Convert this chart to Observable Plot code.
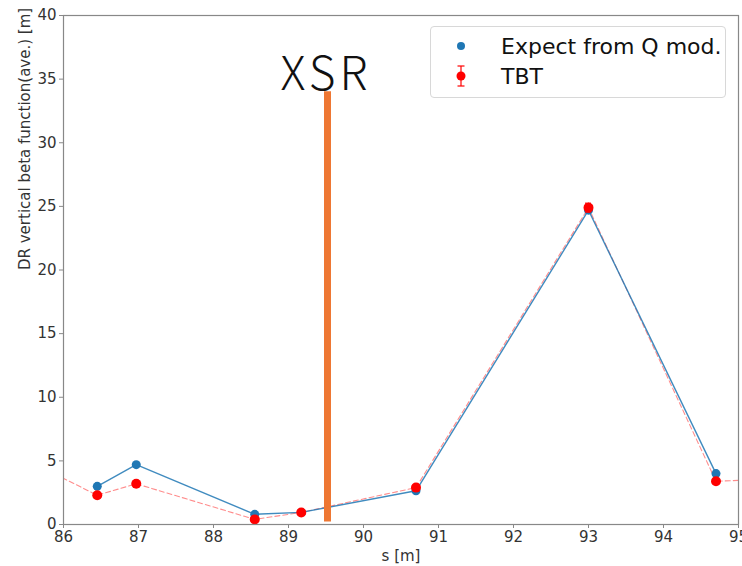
<!DOCTYPE html>
<html>
<head>
<meta charset="utf-8">
<script src="https://cdn.jsdelivr.net/npm/d3@7"></script>
<script src="https://cdn.jsdelivr.net/npm/@observablehq/plot@0.6"></script>
<style>
  html, body { margin: 0; padding: 0; background: #fff; }
  #wrap { position: relative; width: 742px; height: 566px; overflow: hidden; }
  #legend { position: absolute; left: 430px; top: 26px; width: 294px; height: 70px;
    border: 1px solid #d8d8d8; border-radius: 4px; background: rgba(255,255,255,0.8);
    font-family: "DejaVu Sans", sans-serif; font-size: 22px; color: #111; }
  .row { position: absolute; left: 0; height: 26px; display: flex; align-items: center; }
  .row svg { margin-left: 22px; margin-right: 32px; }
  .xsr-label text { letter-spacing: 4px; }
</style>
</head>
<body>
<div id="wrap"></div>
<script>
// Data
const sPos = [86.45, 86.97, 88.55, 89.17, 90.70, 93.00, 94.70];
const expectBeta = [3.0, 4.7, 0.8, 0.95, 2.65, 24.7, 4.0];
const tbtBeta = [2.3, 3.2, 0.4, 0.95, 2.9, 24.9, 3.4];
const tbtErr = [0.1, 0.1, 0.1, 0.1, 0.15, 0.35, 0.1];
// dashed TBT trend extends beyond the plotted window
const tbtLineS = [85.6, 86.45, 86.97, 88.55, 89.17, 90.70, 93.00, 94.70, 95.6];
const tbtLineB = [4.8, 2.3, 3.2, 0.4, 0.95, 2.9, 24.9, 3.4, 3.6];
const xsrS = 89.52;
const xsrTop = 34;
const xsrBottom = 0.2;
const xTicks = [86, 87, 88, 89, 90, 91, 92, 93, 94, 95];
const yTicks = [0, 5, 10, 15, 20, 25, 30, 35, 40];
const capHalf = 0.04;

const pts = sPos.map((s, i) => ({s, exp: expectBeta[i], tbt: tbtBeta[i], err: tbtErr[i]}));
const tline = tbtLineS.map((s, i) => ({s, b: tbtLineB[i]}));

const chart = Plot.plot({
  width: 742,
  height: 566,
  marginLeft: 63,
  marginRight: 4,
  marginTop: 15,
  marginBottom: 42,
  style: {fontFamily: "DejaVu Sans, sans-serif", fontSize: "15px", color: "#222", background: "white", overflow: "visible"},
  x: {type: "linear", domain: [86, 95], ticks: xTicks, tickFormat: d => String(d), label: null},
  y: {type: "linear", domain: [0, 40], ticks: yTicks, tickFormat: d => String(d), label: null},
  marks: [
    Plot.line(tline, {x: "s", y: "b", stroke: "red", strokeOpacity: 0.45, strokeWidth: 1.1, strokeDasharray: "5,3", clip: true}),
    Plot.line(pts, {x: "s", y: "exp", stroke: "#1f77b4", strokeWidth: 1.4, strokeOpacity: 0.85}),
    Plot.dot(pts, {x: "s", y: "exp", r: 4.5, fill: "#1f77b4"}),
    Plot.ruleX(pts, {x: "s", y1: d => d.tbt - d.err, y2: d => d.tbt + d.err, stroke: "red", strokeWidth: 1.2}),
    Plot.ruleY(pts, {y: d => d.tbt + d.err, x1: d => d.s - capHalf, x2: d => d.s + capHalf, stroke: "red", strokeWidth: 1.2}),
    Plot.ruleY(pts, {y: d => d.tbt - d.err, x1: d => d.s - capHalf, x2: d => d.s + capHalf, stroke: "red", strokeWidth: 1.2}),
    Plot.dot(pts, {x: "s", y: "tbt", r: 5, fill: "red"}),
    Plot.ruleX([xsrS], {x: d => d, y1: xsrBottom, y2: xsrTop, stroke: "#ee7733", strokeWidth: 7}),
    Plot.text(["XSR"], {x: xsrS - 0.02, y: xsrTop, text: d => d, dy: -2, lineAnchor: "bottom", className: "xsr-label",
      fontSize: 46, fontWeight: 300, fontFamily: "Noto Sans CJK JP, Noto Sans, sans-serif", fill: "#111"}),
    Plot.frame({stroke: "#888", strokeWidth: 1.2}),
    Plot.axisX({ticks: xTicks, tickSize: 4, tickPadding: 3, stroke: "#888", color: "#333", tickFormat: d => String(d), label: null, fontSize: 15}),
    Plot.axisY({ticks: yTicks, tickSize: 4, tickPadding: 3, stroke: "#888", color: "#333", tickFormat: d => String(d), label: null, fontSize: 15}),
    Plot.text(["s [m]"], {frameAnchor: "bottom", dy: 36, text: d => d, fontSize: 15, fill: "#333"}),
    Plot.text(["DR vertical beta function(ave.) [m]"], {frameAnchor: "left", dx: -38, rotate: -90, text: d => d, fontSize: 15, fill: "#333"})
  ]
});

const wrap = document.getElementById("wrap");
wrap.appendChild(chart);

const legend = document.createElement("div");
legend.id = "legend";
legend.innerHTML = `
  <div class="row" style="top:6px"><svg width="16" height="20"><circle cx="8" cy="10" r="4" fill="#1f77b4"/></svg><span>Expect from Q mod.</span></div>
  <div class="row" style="top:36px"><svg width="16" height="26">
    <line x1="8" y1="3" x2="8" y2="23" stroke="red" stroke-width="1.2"/>
    <line x1="4.5" y1="3" x2="11.5" y2="3" stroke="red" stroke-width="1.2"/>
    <line x1="4.5" y1="23" x2="11.5" y2="23" stroke="red" stroke-width="1.2"/>
    <circle cx="8" cy="13" r="4.5" fill="red"/></svg><span>TBT</span></div>`;
wrap.appendChild(legend);
</script>
</body>
</html>
